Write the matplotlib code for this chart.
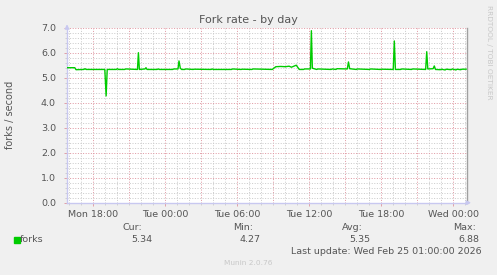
import matplotlib
matplotlib.use("Agg")
import matplotlib.pyplot as plt
import numpy as np

# hours since Mon 00:00 and fork rate (forks / second)
hours = [15.8, 16.45, 16.55, 17.2, 17.3, 17.4, 18.7, 18.95, 19.06, 19.15, 19.9, 20.0, 20.1,
         20.6, 20.7, 21.67, 21.75, 21.83, 22.3, 22.38, 22.47, 23.3, 23.4, 23.5, 24.6, 24.7,
         25.05, 25.13, 25.24, 25.35, 25.6, 25.7, 26.3, 26.4, 27.8, 27.9, 28.0, 29.5, 29.6,
         30.3, 30.4, 31.2, 31.3, 32.9, 33.2, 33.6, 34.0, 34.3, 34.5, 34.9, 35.15, 35.5,
         35.6, 36.08, 36.16, 36.24, 36.6, 36.7, 37.8, 37.9, 38.2, 38.3, 39.15, 39.25,
         39.35, 39.9, 40.0, 41.0, 41.1, 41.9, 42.0, 42.98, 43.07, 43.16, 43.6, 43.7,
         44.5, 44.6, 45.68, 45.77, 45.86, 46.3, 46.4, 46.5, 46.9, 47.0, 47.3, 47.4,
         47.8, 47.9, 48.2, 48.3, 48.6, 48.7, 49.05]
forks = [5.40, 5.40, 5.32, 5.33, 5.36, 5.33, 5.33, 5.33, 4.27, 5.33, 5.33, 5.36, 5.33,
         5.33, 5.35, 5.33, 6.00, 5.33, 5.35, 5.40, 5.33, 5.33, 5.35, 5.33, 5.33, 5.35,
         5.35, 5.67, 5.38, 5.33, 5.33, 5.35, 5.33, 5.34, 5.33, 5.35, 5.33, 5.33, 5.35,
         5.33, 5.34, 5.33, 5.35, 5.33, 5.44, 5.45, 5.44, 5.46, 5.42, 5.50, 5.33, 5.33,
         5.35, 5.35, 6.88, 5.38, 5.33, 5.35, 5.33, 5.35, 5.33, 5.36, 5.35, 5.63,
         5.36, 5.33, 5.35, 5.33, 5.35, 5.33, 5.34, 5.33, 6.47, 5.33, 5.33, 5.35,
         5.33, 5.35, 5.33, 6.04, 5.35, 5.36, 5.47, 5.33, 5.32, 5.34, 5.31, 5.34,
         5.32, 5.35, 5.31, 5.34, 5.32, 5.34, 5.34]

x_ticks = [18, 24, 30, 36, 42, 48]
x_labels = ["Mon 18:00", "Tue 00:00", "Tue 06:00", "Tue 12:00", "Tue 18:00", "Wed 00:00"]
legend_heads = ["Cur:", "Min:", "Avg:", "Max:"]
legend_vals = ["5.34", "4.27", "5.35", "6.88"]

W, H = 497, 275
fig = plt.figure(figsize=(W / 100, H / 100), dpi=100, facecolor="#f0f0f0")
x0, x1, ytop, ybot = 67, 466.7, 27.7, 202.7
ax = fig.add_axes([x0 / W, 1 - ybot / H, (x1 - x0) / W, (ybot - ytop) / H])
ax.set_facecolor("white")
xmin, xmax = 15.8, 49.1
ax.set_xlim(xmin, xmax)
ax.set_ylim(0, 7)

dot = (0, (1, 1.6))
minor_c, major_c = "#cccccc", "#e09aa4"
for h in np.arange(16, 50, 1):
    major = (h % 3 == 0)
    ax.axvline(h, color=major_c if major else minor_c, lw=0.72, ls=dot, zorder=1)
for v in np.arange(0.2, 7.01, 0.2):
    major = abs(v - round(v)) < 1e-6
    ax.axhline(v, color=major_c if major else minor_c, lw=0.72, ls=dot, zorder=1)

ax.plot(hours, forks, color="#00cc00", lw=1.0, zorder=3)

ax.spines["top"].set_visible(False)
ax.spines["left"].set_color("#c8c8f0")
ax.spines["bottom"].set_color("#c8c8f0")
ax.spines["right"].set_color("#a0a0a0")
for s in ["left", "bottom", "right"]:
    ax.spines[s].set_linewidth(1.0)

ax.set_yticks(np.arange(0, 7.01, 1.0))
ax.set_yticklabels(["%.1f" % v for v in np.arange(0, 7.01, 1.0)])
ax.set_yticks(np.arange(0, 7.01, 0.2), minor=True)
ax.set_xticks(x_ticks)
ax.set_xticklabels(x_labels)
ax.set_xticks(np.arange(16, 50, 1), minor=True)
ax.tick_params(axis="both", which="major", labelsize=6.8, labelcolor="#555555", length=2,
               width=0.7, color="#e0a0a8")
ax.tick_params(axis="both", which="minor", length=1.5, width=0.7, color="#d0d0d0")
ax.tick_params(axis="y", which="major", pad=6)
ax.tick_params(axis="x", which="major", pad=3)

# arrows
ax.annotate("", xy=(xmin, 7.25), xytext=(xmin, 6.9), annotation_clip=False,
            arrowprops=dict(arrowstyle="-|>", color="#c8c8f0", lw=1, mutation_scale=6))
ax.annotate("", xy=(xmax + 0.6, 0), xytext=(xmax - 0.2, 0), annotation_clip=False,
            arrowprops=dict(arrowstyle="-|>", color="#c8c8f0", lw=1, mutation_scale=6))

fig.text(248 / W, 1 - 20 / H, "Fork rate - by day", ha="center", va="center",
         fontsize=8, color="#555555")
fig.text(10 / W, 1 - 115 / H, "forks / second", rotation=90, ha="center", va="center",
         fontsize=7, color="#555555")
fig.text(489 / W, 1 - 52 / H, "RRDTOOL / TOBI OETIKER", rotation=270, ha="center",
         va="center", fontsize=5.3, color="#c8c8c8")

head_x = [142, 253, 363, 476]
val_x = [152, 261, 370, 479]
for hx, vx, hd, vl in zip(head_x, val_x, legend_heads, legend_vals):
    fig.text(hx / W, 1 - 227 / H, hd, ha="right", va="center", fontsize=6.8, color="#555555")
    fig.text(vx / W, 1 - 239 / H, vl, ha="right", va="center", fontsize=6.8, color="#555555")
fig.patches.append(plt.Rectangle((14 / W, 1 - 243 / H), 5.5 / W, 6 / H,
                                 transform=fig.transFigure, color="#00cc00"))
fig.text(20 / W, 1 - 239 / H, "forks", ha="left", va="center", fontsize=6.8, color="#555555")
fig.text(482 / W, 1 - 251 / H, "Last update: Wed Feb 25 01:00:00 2026", ha="right",
         va="center", fontsize=6.8, color="#555555")
fig.text(248 / W, 1 - 263 / H, "Munin 2.0.76", ha="center", va="center",
         fontsize=5.3, color="#c8c8c8")

fig.savefig("out.png", dpi=100, facecolor=fig.get_facecolor())
